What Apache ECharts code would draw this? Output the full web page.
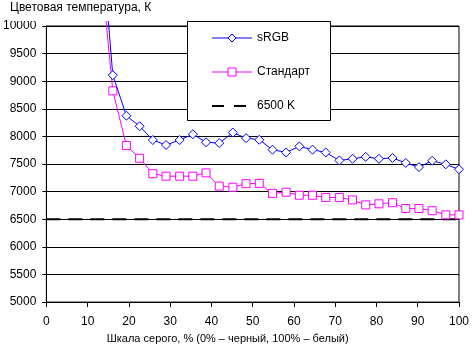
<!DOCTYPE html>
<html>
<head>
<meta charset="utf-8">
<script src="https://cdn.jsdelivr.net/npm/echarts@6/dist/echarts.min.js"></script>
<style>html,body{margin:0;padding:0;background:#fff}#c{width:472px;height:349px}</style>
</head>
<body>
<div id="c"></div>
<script>
var greyLevels = [12.9, 16.1, 19.4, 22.6, 25.8, 29.0, 32.3, 35.5, 38.7, 41.9, 45.2, 48.4, 51.6, 54.8, 58.1, 61.3, 64.5, 67.7, 71.0, 74.2, 77.4, 80.6, 83.9, 87.1, 90.3, 93.5, 96.8, 100];
var srgbValues = [12000, 9110, 8375, 8185, 7935, 7845, 7935, 8040, 7895, 7880, 8070, 7970, 7940, 7760, 7710, 7820, 7760, 7710, 7565, 7595, 7630, 7595, 7610, 7520, 7445, 7560, 7495, 7405];
var standardValues = [11300, 8825, 7835, 7605, 7325, 7280, 7280, 7280, 7340, 7100, 7080, 7145, 7150, 6970, 6990, 6935, 6935, 6895, 6895, 6850, 6760, 6780, 6800, 6695, 6695, 6655, 6580, 6580];
var refX = [0, 100];
var refValue = 6500;
var seriesNames = ['sRGB', 'Стандарт', '6500 K'];
var titleText = 'Цветовая температура, К';
var xAxisTitle = 'Шкала серого, % (0% – черный, 100% – белый)';

var FONT = "'Liberation Sans', Arial, sans-serif";
var BLUE = '#0000ff', MAGENTA = '#ff00ff';
function pairs(xs, ys) { return xs.map(function (x, i) { return [x, ys[i]]; }); }

var chart = echarts.init(document.getElementById('c'), null, { renderer: 'canvas' });
chart.setOption({
  animation: false,
  backgroundColor: '#fff',
  textStyle: { fontFamily: FONT, color: '#000' },
  title: {
    text: titleText,
    left: 9, top: 0,
    padding: [1, 4, 7, 1],
    backgroundColor: '#fff',
    z: 6,
    textStyle: { fontFamily: FONT, fontSize: 12, fontWeight: 'normal', color: '#000', lineHeight: 13 }
  },
  grid: { left: 43, right: 10, top: 26, bottom: 44, show: true, borderColor: '#000', borderWidth: 1, backgroundColor: 'transparent' },
  legend: {
    orient: 'vertical',
    left: 211, top: 32,
    itemWidth: 40, itemHeight: 10, itemGap: 22,
    padding: 0,
    z: 10,
    textStyle: { fontFamily: FONT, fontSize: 12, color: '#000' },
    data: [
      { name: seriesNames[0], itemStyle: { color: '#fff', borderColor: BLUE, borderWidth: 1 }, lineStyle: { color: BLUE, width: 1 } },
      { name: seriesNames[1], itemStyle: { color: '#fff', borderColor: MAGENTA, borderWidth: 1 }, lineStyle: { color: MAGENTA, width: 1 } },
      { name: seriesNames[2], itemStyle: { opacity: 0 }, lineStyle: { color: '#000', width: 2, type: [12, 10] } }
    ]
  },
  graphic: { elements: [
    { type: 'rect', z: 3, shape: { x: 187.5, y: 21.5, width: 143, height: 99 }, style: { fill: '#fff', stroke: '#000', lineWidth: 1 } }
  ] },
  xAxis: {
    type: 'value', min: 0, max: 100, interval: 10,
    name: xAxisTitle, nameLocation: 'middle', nameGap: 30,
    nameTextStyle: { fontFamily: FONT, fontSize: 11, color: '#000', padding: [0, 50, 0, 0] },
    axisLine: { lineStyle: { color: '#000', width: 1 } },
    axisTick: { show: true, length: 5, lineStyle: { color: '#000' } },
    axisLabel: { fontFamily: FONT, fontSize: 12, color: '#000', margin: 14 },
    splitLine: { show: false }
  },
  yAxis: {
    type: 'value', min: 5000, max: 10000, interval: 500,
    axisLine: { show: true, lineStyle: { color: '#000', width: 1 } },
    axisTick: { show: true, length: 4, lineStyle: { color: '#000' } },
    axisLabel: { fontFamily: FONT, fontSize: 12, color: '#000', margin: 10, formatter: function (v) { return String(v); } },
    splitLine: { show: true, lineStyle: { color: '#000', width: 1 } }
  },
  series: [
    {
      name: seriesNames[0], type: 'line', clip: false,
      data: pairs(greyLevels, srgbValues),
      symbol: 'diamond', symbolSize: 9, showAllSymbol: true,
      lineStyle: { color: BLUE, width: 1 },
      itemStyle: { color: '#fff', borderColor: BLUE, borderWidth: 1 },
      z: 3
    },
    {
      name: seriesNames[1], type: 'line', clip: false,
      data: pairs(greyLevels, standardValues),
      symbol: 'rect', symbolSize: 8, showAllSymbol: true,
      lineStyle: { color: MAGENTA, width: 1 },
      itemStyle: { color: '#fff', borderColor: MAGENTA, borderWidth: 1 },
      z: 2
    },
    {
      name: seriesNames[2], type: 'line',
      data: refX.map(function (x) { return [x, refValue]; }),
      symbol: 'none',
      lineStyle: { color: '#000', width: 2, type: [14, 8] },
      itemStyle: { color: '#000' },
      z: 2
    }
  ]
});
</script>
</body>
</html>
